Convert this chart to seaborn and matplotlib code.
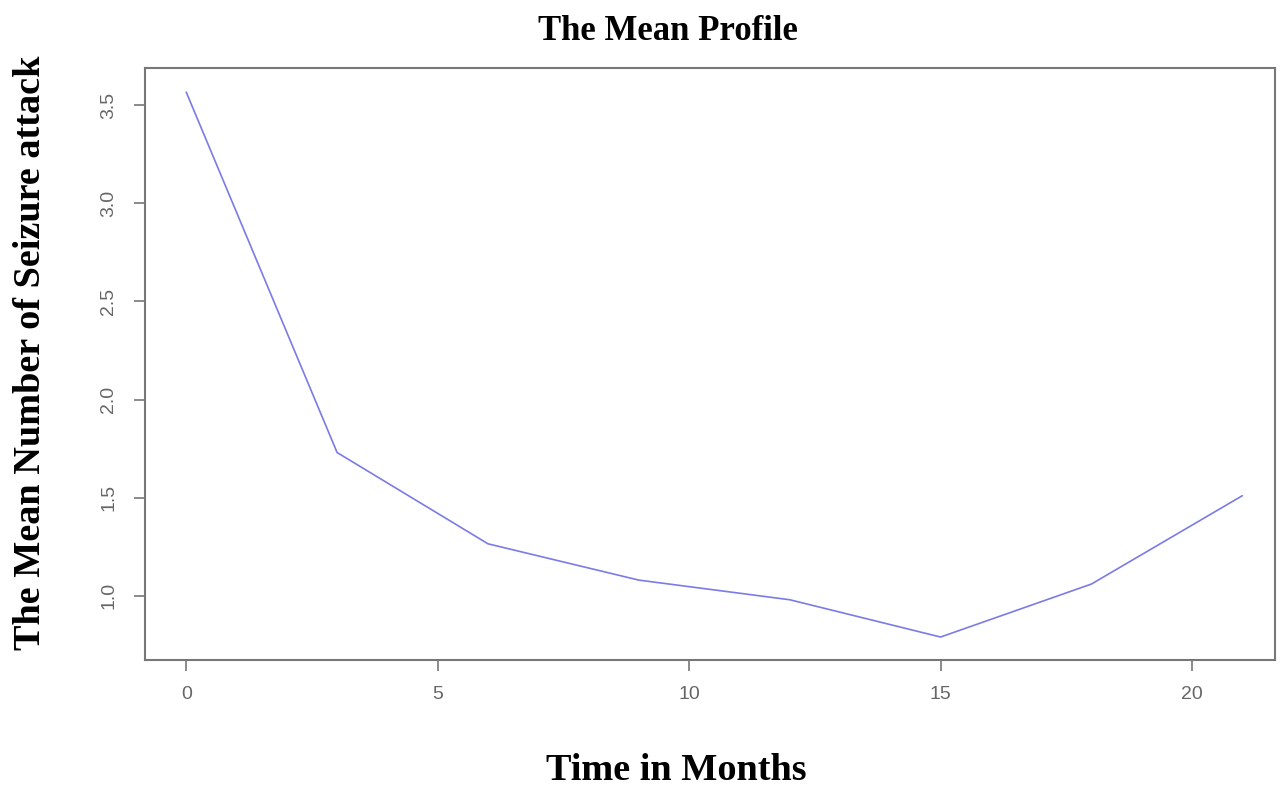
import matplotlib
matplotlib.use("Agg")
import matplotlib.pyplot as plt
import seaborn as sns
import pandas as pd

months = [0, 3, 6, 9, 12, 15, 18, 21]
mean_seizures = [3.566, 1.73, 1.265, 1.08, 0.98, 0.79, 1.06, 1.51]
x_ticks = [0, 5, 10, 15, 20]
y_ticks = [1.0, 1.5, 2.0, 2.5, 3.0, 3.5]

df = pd.DataFrame({"month": months, "mean": mean_seizures})

sns.set_theme(style="white")
plt.rcParams['font.family'] = ['Liberation Sans', 'DejaVu Sans']

fig = plt.figure(figsize=(12.84, 7.87), dpi=100)
ax = fig.add_axes([145/1284, 1-660/787, (1275-145)/1284, (660-68)/787])

sns.lineplot(data=df, x="month", y="mean", ax=ax, color="#7b7be6", linewidth=1.2)

ax.set_xlim(-0.82, 21.65)
ax.set_ylim(0.673, 3.689)
ax.set_xticks(x_ticks)
ax.set_xticklabels([str(t) for t in x_ticks])
ax.set_yticks(y_ticks)
ax.set_yticklabels([f"{t:.1f}" for t in y_ticks], rotation=90, va="center")

for s in ax.spines.values():
    s.set_visible(True)
    s.set_color("#777777")
    s.set_linewidth(1.5)

ax.tick_params(axis="both", which="both", direction="out", length=8, width=1.2,
               color="#777777", labelcolor="#666666", labelsize=14, bottom=True, left=True)
ax.tick_params(axis="x", pad=11)
ax.tick_params(axis="y", pad=12)

ax.set_xlabel("")
ax.set_ylabel("")

fig.text(668/1284, 1-31/787, "The Mean Profile", ha="center", va="center", color="black",
         family="Liberation Serif", fontweight="bold", fontsize=25)
fig.text(676/1284, 1-771/787, "Time in Months", ha="center", va="center", color="black",
         family="Liberation Serif", fontweight="bold", fontsize=27.5)
fig.text(31/1284, 1-353/787, "The Mean Number of Seizure attack", ha="center", va="center",
         rotation=90, color="black", family="Liberation Serif", fontweight="bold", fontsize=27.5)

fig.savefig("out.png", dpi=100)
